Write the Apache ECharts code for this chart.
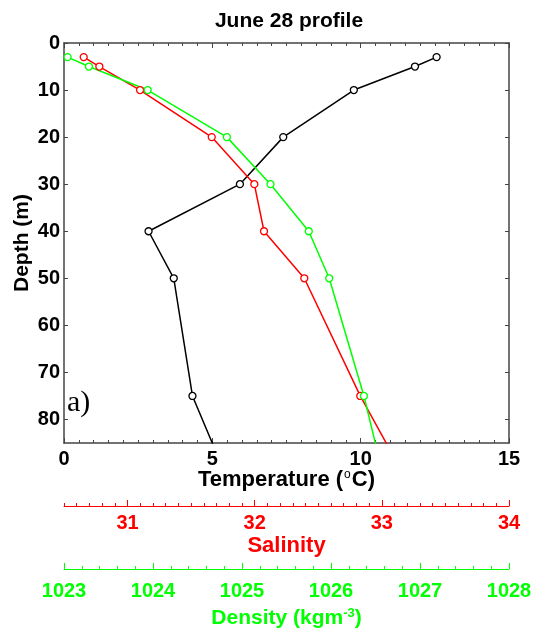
<!DOCTYPE html>
<html><head><meta charset="utf-8">
<script src="https://cdn.jsdelivr.net/npm/echarts@6/dist/echarts.min.js"></script>
<style>html,body{margin:0;padding:0;background:#fff}#c{width:536px;height:637px}</style>
</head><body><div id="c"></div>
<script>
const depths = [3, 5, 10, 20, 30, 40, 50, 75, 100];
const temperature = [12.56, 11.83, 9.77, 7.39, 5.93, 2.85, 3.70, 4.33, 6.0];
const salinity = [30.655, 30.778, 31.098, 31.662, 31.997, 32.073, 32.39, 32.83, 33.34];
const density = [1023.04, 1023.28, 1023.94, 1024.83, 1025.32, 1025.75, 1025.98, 1026.37, 1026.69];
const tempTicks = [0, 5, 10, 15];
const salTicks = [31, 32, 33, 34];
const densTicks = [1023, 1024, 1025, 1026, 1027, 1028];
const depthTicks = [0, 10, 20, 30, 40, 50, 60, 70, 80];

const FONT = 'Liberation Sans, Arial, sans-serif';
const FRAME = '#444';
const salMinor = [];
for (let i = 0; i <= 35; i++) salMinor.push(Math.round((30.5 + i * 0.1) * 10) / 10);

const chart = echarts.init(document.getElementById('c'), null, {renderer: 'canvas'});
const pair = (xs) => xs.map((v, i) => [v, depths[i]]);

chart.setOption({
  animation: false,
  title: {
    text: 'June 28 profile', left: 284, top: 6, textAlign: 'center',
    textStyle: {fontFamily: FONT, fontWeight: 'bold', fontSize: 21, color: '#000'}
  },
  grid: {left: 64, top: 43, width: 445, height: 400, containLabel: false, outerBoundsMode: 'none'},
  xAxis: [
    { // temperature bottom
      type: 'value', position: 'bottom', min: 0, max: 15, interval: 5,
      axisLine: {show: true, onZero: false, lineStyle: {color: FRAME, width: 1.5}},
      axisTick: {show: true, inside: true, length: 5, customValues: tempTicks, lineStyle: {color: FRAME}},
      minorTick: {show: true, splitNumber: 10, length: 3, lineStyle: {color: FRAME}},
      splitLine: {show: false},
      axisLabel: {customValues: tempTicks, fontFamily: FONT, fontWeight: 'bold', fontSize: 20, color: '#000', margin: 6},
      name: '{a|Temperature (}{s|o}{a|C)}', nameLocation: 'middle', nameGap: 26, nameMoveOverlap: false,
      nameTextStyle: {color: '#000', rich: {
        a: {fontFamily: FONT, fontWeight: 'bold', fontSize: 22, color: '#000'},
        s: {fontFamily: FONT, fontWeight: 'normal', fontSize: 12, color: '#000', padding: [0, 1, 10, 1]}
      }}
    },
    { // temperature top mirror
      type: 'value', position: 'top', min: 0, max: 15, interval: 5,
      axisLine: {show: true, onZero: false, lineStyle: {color: FRAME, width: 1.5}},
      axisTick: {show: true, inside: true, length: 5, lineStyle: {color: FRAME}},
      minorTick: {show: true, splitNumber: 10, length: 3, lineStyle: {color: FRAME}},
      splitLine: {show: false}, axisLabel: {show: false}
    },
    { // salinity major
      type: 'value', position: 'bottom', offset: 63, min: 30.5, max: 34,
      axisLine: {show: true, onZero: false, lineStyle: {color: '#ff0000', width: 1}},
      axisTick: {show: true, inside: true, length: 6, customValues: salTicks, lineStyle: {color: '#ff0000'}},
      splitLine: {show: false},
      axisLabel: {customValues: salTicks, fontFamily: FONT, fontWeight: 'bold', fontSize: 20, color: '#ff0000', margin: 7},
      name: 'Salinity', nameLocation: 'middle', nameGap: 29, nameMoveOverlap: false,
      nameTextStyle: {fontFamily: FONT, fontWeight: 'bold', fontSize: 22, color: '#ff0000'}
    },
    { // salinity minor ticks
      type: 'value', position: 'bottom', offset: 63, min: 30.5, max: 34,
      axisLine: {show: false, onZero: false},
      axisTick: {show: true, inside: true, length: 3, customValues: salMinor, lineStyle: {color: '#ff0000'}},
      splitLine: {show: false}, axisLabel: {show: false}
    },
    { // density
      type: 'value', position: 'bottom', offset: 126, min: 1023, max: 1028, interval: 1,
      axisLine: {show: true, onZero: false, lineStyle: {color: '#00ff00', width: 1}},
      axisTick: {show: true, inside: true, length: 6, lineStyle: {color: '#00ff00'}},
      minorTick: {show: true, splitNumber: 5, length: 3, lineStyle: {color: '#00ff00'}},
      splitLine: {show: false},
      axisLabel: {customValues: densTicks, fontFamily: FONT, fontWeight: 'bold', fontSize: 20, color: '#00ff00', margin: 12,
        formatter: v => String(v), showMinLabel: true, showMaxLabel: true, hideOverlap: false},
      name: '{a|Density (kgm}{s|-3}{a|)}', nameLocation: 'middle', nameGap: 38, nameMoveOverlap: false,
      nameTextStyle: {color: '#00ff00', rich: {
        a: {fontFamily: FONT, fontWeight: 'bold', fontSize: 21, color: '#00ff00'},
        s: {fontFamily: FONT, fontWeight: 'bold', fontSize: 13, color: '#00ff00', padding: [0, 0, 10, 0]}
      }}
    }
  ],
  yAxis: [
    {
      type: 'value', inverse: true, min: 0, max: 85, interval: 10, position: 'left',
      axisLine: {show: true, onZero: false, lineStyle: {color: FRAME, width: 1.5}},
      axisTick: {show: true, inside: true, length: 4, customValues: depthTicks, lineStyle: {color: FRAME}},
      splitLine: {show: false},
      axisLabel: {customValues: depthTicks, fontFamily: FONT, fontWeight: 'bold', fontSize: 20, color: '#000', margin: 4,
        formatter: v => String(v)},
      name: 'Depth (m)', nameLocation: 'middle', nameGap: 31, nameRotate: 90, nameMoveOverlap: false,
      nameTextStyle: {fontFamily: FONT, fontWeight: 'bold', fontSize: 21, color: '#000'}
    },
    {
      type: 'value', inverse: true, min: 0, max: 85, interval: 10, position: 'right',
      axisLine: {show: true, onZero: false, lineStyle: {color: FRAME, width: 1.5}},
      axisTick: {show: true, inside: true, length: 4, customValues: depthTicks, lineStyle: {color: FRAME}},
      splitLine: {show: false}, axisLabel: {show: false}
    }
  ],
  graphic: [{
    type: 'text', left: 67, top: 388,
    style: {text: 'a)', fontFamily: 'Liberation Serif, serif', fontSize: 30, fill: '#000'}
  }],
  series: [
    {type: 'line', name: 'Temperature', xAxisIndex: 0, yAxisIndex: 0, data: pair(temperature),
      symbol: 'circle', symbolSize: 7, showSymbol: true, clip: true,
      itemStyle: {color: '#fff', borderColor: '#000', borderWidth: 1.3},
      lineStyle: {color: '#000', width: 1.5}},
    {type: 'line', name: 'Salinity', xAxisIndex: 2, yAxisIndex: 0, data: pair(salinity),
      symbol: 'circle', symbolSize: 7, showSymbol: true, clip: true,
      itemStyle: {color: '#fff', borderColor: '#ff0000', borderWidth: 1.3},
      lineStyle: {color: '#ff0000', width: 1.5}},
    {type: 'line', name: 'Density', xAxisIndex: 4, yAxisIndex: 0, data: pair(density),
      symbol: 'circle', symbolSize: 7, showSymbol: true, clip: true,
      itemStyle: {color: '#fff', borderColor: '#00ff00', borderWidth: 1.3},
      lineStyle: {color: '#00ff00', width: 1.5}}
  ]
});
</script></body></html>
